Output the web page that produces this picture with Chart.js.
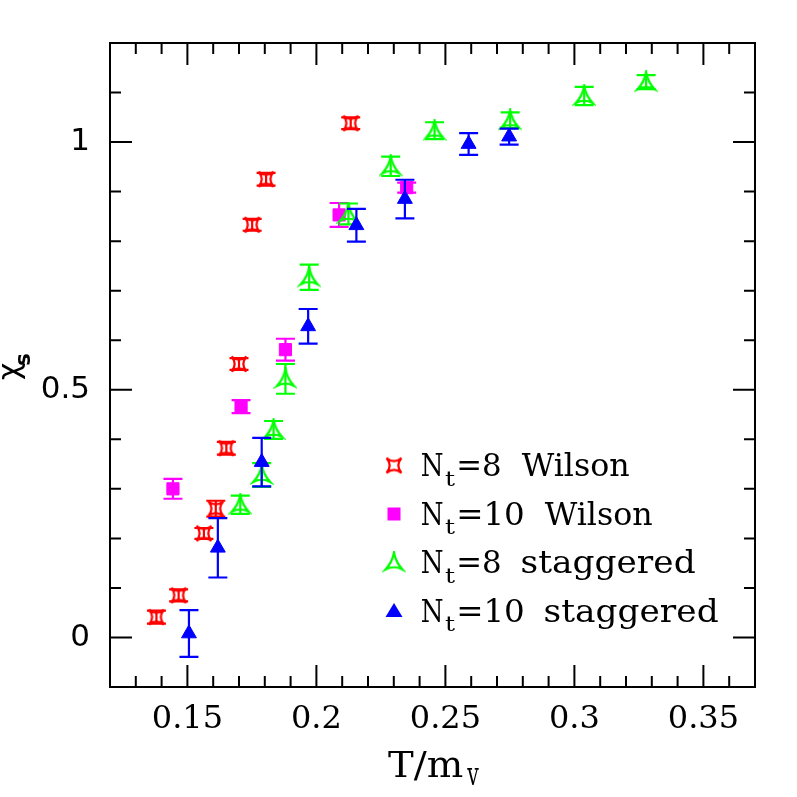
<!DOCTYPE html>
<html>
<head>
<meta charset="utf-8">
<script src="https://cdn.jsdelivr.net/npm/chart.js@4.4.1/dist/chart.umd.min.js"></script>
<style>
  html, body { margin: 0; padding: 0; background: #fff; }
  canvas { display: block; }
</style>
</head>
<body>
<canvas id="chiChart" width="797" height="797"></canvas>
<script>
// ---------------------------
// DATA
// ---------------------------
// N_t=8 Wilson
const w8T   = [0.138, 0.1466, 0.1564, 0.161, 0.1651, 0.170, 0.1751, 0.1805, 0.2133];
const w8Chi = [0.041, 0.085, 0.210, 0.260, 0.382, 0.552, 0.833, 0.925, 1.038];
const w8Err = [0.013, 0.012, 0.011, 0.016, 0.013, 0.012, 0.012, 0.013, 0.012];

// N_t=10 Wilson
const w10T   = [0.1444, 0.1708, 0.188, 0.2088, 0.235];
const w10Chi = [0.300, 0.466, 0.581, 0.853, 0.908];
const w10Err = [0.020, 0.013, 0.022, 0.024, 0.010];

// N_t=8 staggered
const s8T   = [0.1705, 0.1788, 0.1834, 0.188, 0.1972, 0.2124, 0.2288, 0.2458, 0.2751, 0.3038, 0.3278];
const s8Chi = [0.268, 0.328, 0.419, 0.522, 0.727, 0.855, 0.951, 1.023, 1.044, 1.093, 1.121];
const s8Err = [0.0185, 0.024, 0.018, 0.030, 0.0255, 0.021, 0.0195, 0.017, 0.016, 0.0185, 0.014];

// N_t=10 staggered
const s10T   = [0.1506, 0.1618, 0.1788, 0.1968, 0.2155, 0.2343, 0.259, 0.2747];
const s10Chi = [0.008, 0.181, 0.354, 0.628, 0.832, 0.885, 0.996, 1.011];
const s10Err = [0.047, 0.060, 0.049, 0.035, 0.033, 0.039, 0.022, 0.016];

const xTickLabels = ["0.15", "0.2", "0.25", "0.3", "0.35"];
const yTickLabels = ["0", "0.5", "1"];

const legendNt   = ["8", "10", "8", "10"];
const legendKind = ["Wilson", "Wilson", "staggered", "staggered"];

// ---------------------------
// MARKERS
// ---------------------------
function makeMarker(draw) {
    const c = document.createElement("canvas");
    c.width = 24;
    c.height = 24;
    const g = c.getContext("2d");
    g.translate(12, 12);
    draw(g);
    return c;
}

// open 4-point star, tips on the diagonals
const starRed = makeMarker(g => {
    const h = 7.5, k = -1.2;
    g.beginPath();
    g.moveTo(-h, -h);
    g.quadraticCurveTo(0, k, h, -h);
    g.quadraticCurveTo(-k, 0, h, h);
    g.quadraticCurveTo(0, -k, -h, h);
    g.quadraticCurveTo(k, 0, -h, -h);
    g.closePath();
    g.strokeStyle = "#ff0000";
    g.lineWidth = 2.2;
    g.stroke();
});

// open 3-point star
const triGreen = makeMarker(g => {
    const pts = [[0, -10], [8.5, 7], [-8.5, 7]];
    g.beginPath();
    g.moveTo(pts[0][0], pts[0][1]);
    for (let i = 0; i < 3; i++) {
        const a = pts[i], b = pts[(i + 1) % 3];
        const cx = (a[0] + b[0]) * 0.18, cy = (a[1] + b[1]) * 0.18;
        g.quadraticCurveTo(cx, cy, b[0], b[1]);
    }
    g.closePath();
    g.strokeStyle = "#00ff00";
    g.lineWidth = 2.2;
    g.stroke();
});

const toPoints = (xs, ys) => xs.map((x, i) => ({ x: x, y: ys[i] }));

// ---------------------------
// PLUGINS
// ---------------------------
const errorBars = {
    id: "errorBars",
    afterDatasetDraw(chart, args) {
        const ds = chart.data.datasets[args.index];
        if (!ds.errors) return;
        const ctx = chart.ctx;
        const xs = chart.scales.x, ys = chart.scales.y;
        ctx.save();
        ctx.strokeStyle = ds.barColor;
        ctx.lineWidth = 2.2;
        ds.data.forEach((p, i) => {
            const px = xs.getPixelForValue(p.x);
            const top = ys.getPixelForValue(p.y + ds.errors[i]);
            const bot = ys.getPixelForValue(p.y - ds.errors[i]);
            ctx.beginPath();
            ctx.moveTo(px, top); ctx.lineTo(px, bot);
            ctx.moveTo(px - 9.5, top); ctx.lineTo(px + 9.5, top);
            ctx.moveTo(px - 9.5, bot); ctx.lineTo(px + 9.5, bot);
            ctx.stroke();
        });
        ctx.restore();
    }
};

// draw text so that its ink starts at x and spans the given width
function fitText(ctx, text, x, y, width) {
    const m = ctx.measureText(text);
    const ink = m.actualBoundingBoxLeft + m.actualBoundingBoxRight;
    ctx.save();
    ctx.translate(x, y);
    ctx.scale(width / ink, 1);
    ctx.fillText(text, m.actualBoundingBoxLeft, 0);
    ctx.restore();
}

const frameAndText = {
    id: "frameAndText",
    afterDraw(chart) {
        const ctx = chart.ctx;
        const a = chart.chartArea;
        const xs = chart.scales.x, ys = chart.scales.y;
        ctx.save();

        // frame
        ctx.strokeStyle = "#000";
        ctx.lineWidth = 2;
        ctx.strokeRect(a.left, a.top, a.right - a.left, a.bottom - a.top);

        // inward ticks on all four sides
        ctx.beginPath();
        xs.ticks.forEach(t => {
            const px = xs.getPixelForValue(t.value);
            const len = t.label ? 22 : 11;
            ctx.moveTo(px, a.bottom); ctx.lineTo(px, a.bottom - len);
            ctx.moveTo(px, a.top); ctx.lineTo(px, a.top + len);
        });
        ys.ticks.forEach(t => {
            const py = ys.getPixelForValue(t.value);
            const len = t.label ? 22 : 11;
            ctx.moveTo(a.left, py); ctx.lineTo(a.left + len, py);
            ctx.moveTo(a.right, py); ctx.lineTo(a.right - len, py);
        });
        ctx.stroke();

        ctx.fillStyle = "#000";
        ctx.textBaseline = "alphabetic";
        ctx.textAlign = "left";

        // x title T/m_v
        ctx.font = "35px 'DejaVu Serif'";
        fitText(ctx, "T/m", 388, 777, 75);
        ctx.font = "31px 'DejaVu Serif'";
        fitText(ctx, "v", 466.5, 785, 12.5);

        // y title chi_s
        ctx.save();
        ctx.translate(19, 367);
        ctx.rotate(-Math.PI / 2);
        ctx.font = "30px 'DejaVu Sans'";
        ctx.fillText("\u03c7", -13, 0);
        const cw = ctx.measureText("\u03c7").width;
        ctx.font = "bold 21px 'DejaVu Sans'";
        ctx.fillText("s", -13 + cw - 3, 10.5);
        ctx.restore();

        // legend
        const sets = chart.data.datasets;
        const nameWidth = { Wilson: 108, staggered: 173 };
        const eqWidth = { "8": 40.7, "10": 63.7 };
        legendNt.forEach((nt, i) => {
            const base = 476 + i * 48.5;
            const ds = sets[i];
            const style = ds.pointStyle;
            const mx = 394, my = base - 10.5;
            if (style instanceof HTMLCanvasElement) {
                ctx.drawImage(style, mx - style.width / 2, my - style.height / 2);
            } else if (style === "rect") {
                ctx.fillStyle = ds.backgroundColor;
                ctx.fillRect(mx - 6.5, my - 6.5, 13, 13);
            } else {
                ctx.fillStyle = ds.backgroundColor;
                ctx.beginPath();
                ctx.moveTo(mx, my - 8);
                ctx.lineTo(mx + 8.5, my + 6);
                ctx.lineTo(mx - 8.5, my + 6);
                ctx.closePath();
                ctx.fill();
            }
            ctx.fillStyle = "#000";
            ctx.font = "31px 'DejaVu Serif'";
            fitText(ctx, "N", 421.7, base, 21);
            ctx.font = "20px 'DejaVu Serif'";
            fitText(ctx, "t", 445, base + 9.5, 10);
            ctx.font = "31px 'DejaVu Serif'";
            fitText(ctx, "=" + nt, 459.3, base, eqWidth[nt]);
            fitText(ctx, legendKind[i], 459.3 + eqWidth[nt] + 21.7, base, nameWidth[legendKind[i]]);
        });

        ctx.restore();
    }
};

// ---------------------------
// CHART
// ---------------------------
const fmt = (v, d) => String(Math.round(v * d) / d);

new Chart(document.getElementById("chiChart").getContext("2d"), {
    type: "scatter",
    data: {
        datasets: [
            {
                label: "N_t=8 Wilson",
                data: toPoints(w8T, w8Chi),
                errors: w8Err,
                barColor: "#ff0000",
                pointStyle: starRed,
                order: 4
            },
            {
                label: "N_t=10 Wilson",
                data: toPoints(w10T, w10Chi),
                errors: w10Err,
                barColor: "#ff00ff",
                pointStyle: "rect",
                pointRadius: 8.6,
                backgroundColor: "#ff00ff",
                borderColor: "#ff00ff",
                borderWidth: 1,
                order: 3
            },
            {
                label: "N_t=8 staggered",
                data: toPoints(s8T, s8Chi),
                errors: s8Err,
                barColor: "#00ff00",
                pointStyle: triGreen,
                order: 2
            },
            {
                label: "N_t=10 staggered",
                data: toPoints(s10T, s10Chi),
                errors: s10Err,
                barColor: "#0000ff",
                pointStyle: "triangle",
                pointRadius: 8.6,
                backgroundColor: "#0000ff",
                borderColor: "#0000ff",
                borderWidth: 1,
                order: 1
            }
        ]
    },
    options: {
        responsive: false,
        animation: false,
        devicePixelRatio: 1,
        layout: { padding: { left: 0, top: 43, right: 42, bottom: 0 } },
        plugins: {
            legend: { display: false },
            title: { display: false },
            tooltip: { enabled: false }
        },
        scales: {
            x: {
                type: "linear",
                min: 0.12,
                max: 0.37,
                grid: { display: false, drawTicks: false },
                border: { display: false },
                ticks: {
                    stepSize: 0.01,
                    autoSkip: false,
                    maxRotation: 0,
                    padding: 13,
                    color: "#000",
                    font: { family: "'DejaVu Serif', serif", size: 32 },
                    callback: v => xTickLabels.includes(fmt(v, 100)) ? fmt(v, 100) : ""
                },
                afterFit: s => { s.height = 110; }
            },
            y: {
                type: "linear",
                min: -0.1,
                max: 1.2,
                grid: { display: false, drawTicks: false },
                border: { display: false },
                ticks: {
                    stepSize: 0.1,
                    autoSkip: false,
                    padding: 20,
                    color: "#000",
                    font: { family: "'DejaVu Sans', sans-serif", size: 31 },
                    callback: v => yTickLabels.includes(fmt(v, 10)) ? fmt(v, 10) : ""
                },
                afterFit: s => { s.width = 110; }
            }
        }
    },
    plugins: [errorBars, frameAndText]
});
</script>
</body>
</html>
